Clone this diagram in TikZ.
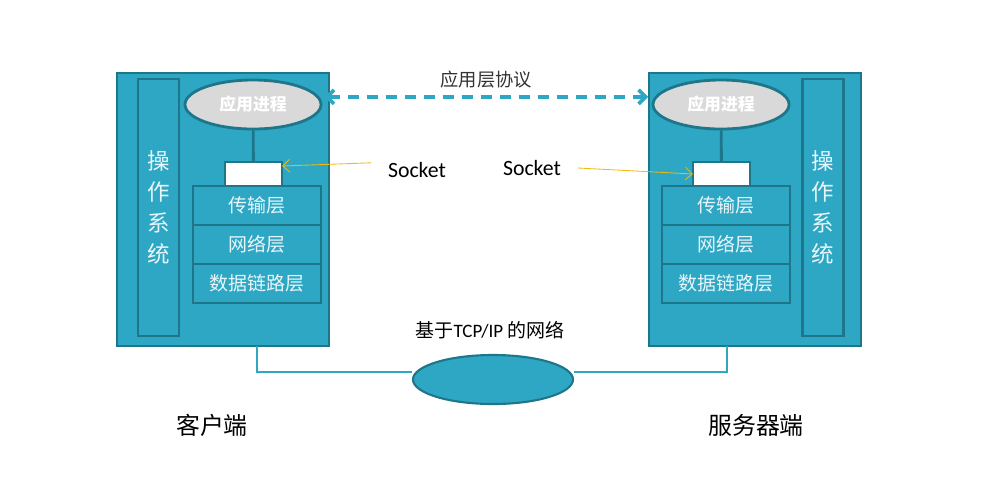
\documentclass[tikz,border=0pt]{standalone}
\usepackage{fontspec}
\setmainfont{Noto Sans CJK SC}
\newfontfamily\latinfont{Carlito}
\usepackage{tikz}
\usetikzlibrary{shapes,arrows,arrows.meta,positioning}

\definecolor{hostfill}{RGB}{46,167,196}
\definecolor{hostline}{RGB}{30,118,138}
\definecolor{procfill}{RGB}{217,217,217}
\definecolor{sockgold}{RGB}{240,185,20}
\definecolor{paletext}{RGB}{232,246,250}

\begin{document}
\begin{tikzpicture}[x=0.025cm, y=-0.025cm, node distance=0pt, auto,
    host/.style={draw=hostline, fill=hostfill, line width=2pt, outer sep=0pt,
      minimum width=5.3cm, minimum height=6.825cm},
    osbar/.style={draw=hostline, line width=2pt, outer sep=0pt,
      minimum width=1.025cm, minimum height=6.425cm, text=paletext,
      font=\fontsize{16}{22}\selectfont, align=center},
    proc/.style={ellipse, draw=hostline, fill=procfill, line width=2pt,
      minimum width=3.4cm, minimum height=1.225cm, inner sep=0pt,
      text=white, font=\fontsize{12}{14}\selectfont\bfseries},
    sock/.style={draw=hostline, fill=white, line width=2pt, outer sep=0pt,
      minimum width=1.425cm, minimum height=0.6cm},
    layer/.style={draw=hostline, line width=2pt, outer sep=0pt,
      minimum width=3.2cm, minimum height=0.975cm, text=paletext,
      font=\fontsize{13.5}{15}\selectfont},
    wire/.style={draw=hostfill, line width=2pt},
    sockarrow/.style={draw=sockgold, semithick, -{Straight Barb[length=5pt, width=9pt]}}]
    \useasboundingbox[fill=white] (0,0) rectangle (1004,483);

    % Client
    \node[host] (hostL) at (223,209.5) {};
    \node[osbar] (osL) at (158.5,207.5) {操\\作\\系\\统};
    \node[proc] (procL) at (253,104.5) {应用进程};
    \node[sock] (sockL) at (253.5,174) {};
    \node[layer] (transL) at (257,205.5) {传输层};
    \node[layer, below=of transL] (netL) {网络层};
    \node[layer, below=of netL] (linkL) {数据链路层};
    \draw[draw=hostline, line width=2pt] (procL) -- (sockL);

    % Server
    \node[host] (hostR) at (755,209.5) {};
    \node[osbar] (osR) at (823,207.5) {操\\作\\系\\统};
    \node[proc] (procR) at (721,104.5) {应用进程};
    \node[sock] (sockR) at (721.5,174) {};
    \node[layer] (transR) at (726,205.5) {传输层};
    \node[layer, below=of transR] (netR) {网络层};
    \node[layer, below=of netR] (linkR) {数据链路层};
    \draw[draw=hostline, line width=2pt] (procR) -- (sockR);

    % Network
    \coordinate (tapL) at (257,372);
    \coordinate (tapR) at (727,372);
    \node[ellipse, draw=hostline, fill=hostfill, line width=1.5pt,
      minimum width=4cm, minimum height=1.225cm] (cloud) at (493,379.5) {};
    \draw[wire] (hostL.south -| tapL) -- (tapL) -- (tapL -| cloud.west);
    \draw[wire] (hostR.south -| tapR) -- (tapR) -- (tapR -| cloud.east);
    \node[font=\fontsize{13.5}{15}\selectfont] (netlab) at (490,330) {基于{\latinfont TCP/IP} 的网络};

    % Protocol
    \draw[draw=hostfill, line width=2.6pt, dash pattern=on 8pt off 5.5pt,
      {Straight Barb[length=5pt, width=10pt]}-{Straight Barb[length=5pt, width=10pt]}]
      ([yshift=0.19cm, xshift=0.05cm]procL.east) -- node[midway, above, text=black!80,
      font=\fontsize{13}{15}\selectfont, yshift=0.05cm] (protolab) {应用层协议}
      ([yshift=0.19cm, xshift=-0.02cm]hostR.west |- procR.east);

    % Socket labels
    \node[font=\latinfont\fontsize{15.5}{18}\selectfont] (sockLabL) at (417,170) {Socket};
    \node[font=\latinfont\fontsize{15.5}{18}\selectfont] (sockLabR) at (532,168) {Socket};
    \draw[sockarrow] ([xshift=-0.3cm, yshift=0.18cm]sockLabL.west) -- ([yshift=0.2cm]sockL.east);
    \draw[sockarrow] ([xshift=0.3cm]sockLabR.east) -- (sockR.west);

    % Host labels
    \node[font=\fontsize{17}{19}\selectfont] (client) at (212,425) {客户端};
    \node[font=\fontsize{17}{19}\selectfont] (server) at (756,425) {服务器端};
\end{tikzpicture}
\end{document}
